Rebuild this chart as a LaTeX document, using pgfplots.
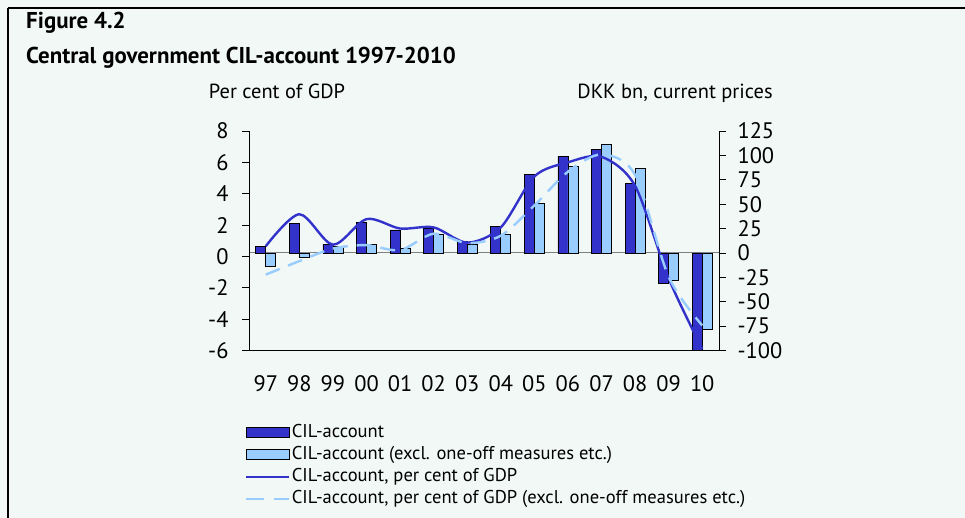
\documentclass[border=0pt]{standalone}
\usepackage{pgfplots}
\pgfplotsset{compat=1.18}
\usepackage{fontspec}
\setmainfont{PT Sans}
\definecolor{bg}{RGB}{241,248,246}
\definecolor{darkbar}{RGB}{51,51,204}
\definecolor{lightbar}{RGB}{153,204,255}

\begin{document}
\begin{tikzpicture}[x=1bp,y=1bp]
\path[use as bounding box] (0,0) rectangle (965,518);
\fill[bg] (0,0) rectangle (965,518);
\draw[line width=1.2bp] (8,510) -- (965,510);
\draw[line width=1.2bp] (8,510) -- (8,0);
\node[anchor=base west, inner sep=0, font=\bfseries\fontsize{23}{23}\selectfont] at (26,489) {Figure 4.2};
\node[anchor=base west, inner sep=0, font=\bfseries\fontsize{23}{23}\selectfont] at (26,454) {Central government CIL-account 1997-2010};
\node[anchor=base, inner sep=0, font=\fontsize{20.5}{20.5}\selectfont] at (277,419) {Per cent of GDP};
\node[anchor=base, inner sep=0, font=\fontsize{20.5}{20.5}\selectfont] at (675,419) {DKK bn, current prices};

% right axis: bars (DKK bn)
\begin{axis}[
  at={(249bp,167.5bp)}, anchor=south west,
  width=470bp, height=219.5bp, scale only axis,
  xmin=-0.5, xmax=13.5, ymin=-100, ymax=125,
  axis y line*=right, axis x line=none,
  ytick={-100,-75,-50,-25,0,25,50,75,100,125},
  tick align=outside, major tick length=7bp,
  every tick/.style={black, line width=0.8bp},
  axis line style={black, line width=1bp},
  /pgf/number format/assume math mode=true,
  yticklabel style={font=\fontsize{22.5}{22.5}\selectfont, anchor=west, xshift=8bp},
  legend style={at={(axis description cs:-0.0085,-0.328)}, anchor=north west,
    draw=none, fill=none, inner sep=0pt, row sep=2bp,
    font=\fontsize{18.6}{18.6}\selectfont,
    nodes={inner sep=1.5bp, text depth=4bp, text height=13bp}},
  legend cell align=left,
]
\addplot[gray, line width=1bp, forget plot] coordinates {(-0.5,0) (13.5,0)};
\addplot[ybar, bar width=10bp, bar shift=-5bp, fill=darkbar, draw=black, line width=0.8bp,
  legend image code/.code={\draw[fill=darkbar, draw=black, line width=0.8bp] (0bp,-5bp) rectangle (43bp,5bp);}]
  coordinates {(0,7) (1,30) (2,9) (3,31) (4,23.6) (5,24.7) (6,11.7) (7,27.4) (8,80) (9,99) (10,106) (11,71) (12,-31) (13,-100)};
\addlegendentry{CIL-account}
\addplot[ybar, bar width=10bp, bar shift=5bp, fill=lightbar, draw=black, line width=0.8bp,
  legend image code/.code={\draw[fill=lightbar, draw=black, line width=0.8bp] (0bp,-5bp) rectangle (43bp,5bp);}]
  coordinates {(0,-13.4) (1,-4.7) (2,6.2) (3,9) (4,4.5) (5,19.5) (6,9) (7,19) (8,51) (9,89) (10,111) (11,87) (12,-28) (13,-78)};
\addlegendentry{CIL-account (excl. one-off measures etc.)}
\addlegendimage{legend image code/.code={\draw[darkbar, line width=2.2bp] (0bp,0bp) -- (43bp,0bp);}}
\addlegendentry{CIL-account, per cent of GDP}
\addlegendimage{legend image code/.code={\draw[lightbar, line width=2.2bp, dash pattern=on 18bp off 10bp] (0bp,0bp) -- (43bp,0bp);}}
\addlegendentry{CIL-account, per cent of GDP (excl. one-off measures etc.)}
\end{axis}

% left axis: lines (per cent of GDP)
\begin{axis}[
  at={(249bp,167.5bp)}, anchor=south west,
  width=470bp, height=219.5bp, scale only axis,
  xmin=-0.5, xmax=13.5, ymin=-6, ymax=8,
  axis y line*=left, axis x line*=bottom,
  ytick={-6,-4,-2,0,2,4,6,8},
  xtick={0,...,13},
  xticklabels={97,98,99,00,01,02,03,04,05,06,07,08,09,10},
  tick align=outside, major tick length=7bp,
  every tick/.style={black, line width=0.8bp},
  xtick style={draw=none},
  axis line style={black, line width=1bp},
  /pgf/number format/assume math mode=true,
  yticklabel style={font=\fontsize{22.5}{22.5}\selectfont, anchor=east, xshift=-10bp},
  xticklabel style={font=\fontsize{22.5}{22.5}\selectfont, yshift=-15bp},
]
\addplot[darkbar, line width=2.4bp, smooth] coordinates {(0,0.65) (1,2.69) (2,0.75) (3,2.38) (4,1.78) (5,1.85) (6,0.88) (7,1.85) (8,5.1) (9,6.0) (10,6.35) (11,4.5) (12,-1.4) (13,-5.9)};
\addplot[lightbar, line width=2.4bp, smooth, dash pattern=on 15bp off 9bp] coordinates {(0,-1.16) (1,-0.3) (2,0.5) (3,0.72) (4,0.4) (5,1.45) (6,0.85) (7,1.32) (8,3.25) (9,5.4) (10,6.5) (11,5.2) (12,-1.3) (13,-4.4)};
\end{axis}
\end{tikzpicture}
\end{document}
